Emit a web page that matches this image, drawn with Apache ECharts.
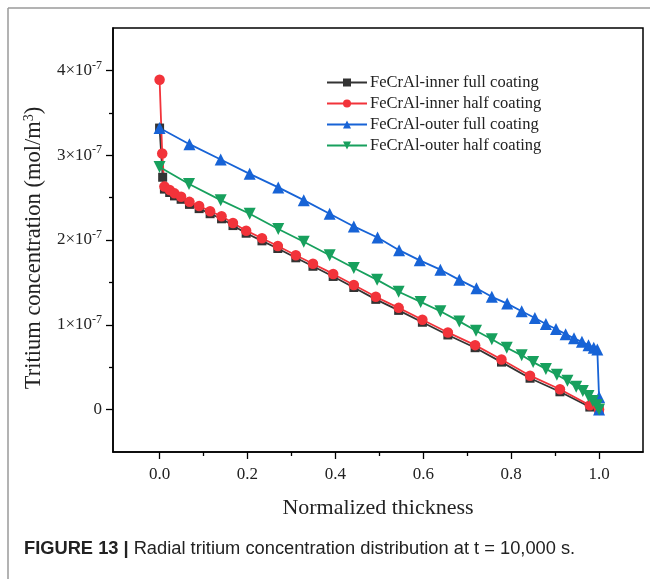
<!DOCTYPE html>
<html>
<head>
<meta charset="utf-8">
<script src="https://cdn.jsdelivr.net/npm/echarts@6/dist/echarts.min.js"></script>
<style>
  html, body { margin: 0; padding: 0; background: #fff; }
  #chart { width: 650px; height: 579px; }
</style>
</head>
<body>
<div id="chart"></div>
<script>
// series names (legend order)
const seriesNames = [
  'FeCrAl-inner full coating',
  'FeCrAl-inner half coating',
  'FeCrAl-outer full coating',
  'FeCrAl-outer half coating'
];

// normalized thickness / concentration in units of 1e-7 mol/m3
const innerFullX = [0, 0.007, 0.011, 0.023, 0.034, 0.049, 0.068, 0.090, 0.115, 0.141, 0.167, 0.197, 0.233, 0.269, 0.310, 0.349, 0.395, 0.442, 0.492, 0.544, 0.598, 0.656, 0.718, 0.778, 0.843, 0.911, 0.979, 1.0];
const innerFullY = [3.32, 2.74, 2.60, 2.56, 2.52, 2.48, 2.42, 2.37, 2.31, 2.25, 2.17, 2.08, 1.99, 1.90, 1.79, 1.69, 1.57, 1.44, 1.30, 1.17, 1.03, 0.88, 0.73, 0.56, 0.37, 0.21, 0.03, 0.00];

const innerHalfX = [0, 0.006, 0.011, 0.023, 0.034, 0.049, 0.068, 0.090, 0.115, 0.141, 0.167, 0.197, 0.233, 0.269, 0.310, 0.349, 0.395, 0.442, 0.492, 0.544, 0.598, 0.656, 0.718, 0.778, 0.843, 0.911, 0.979, 1.0];
const innerHalfY = [3.89, 3.02, 2.63, 2.59, 2.55, 2.51, 2.45, 2.40, 2.34, 2.28, 2.20, 2.11, 2.02, 1.93, 1.82, 1.72, 1.60, 1.47, 1.33, 1.20, 1.06, 0.91, 0.76, 0.59, 0.40, 0.24, 0.05, 0.00];

const outerFullX = [0, 0.068, 0.139, 0.205, 0.270, 0.328, 0.387, 0.442, 0.496, 0.545, 0.592, 0.639, 0.682, 0.721, 0.756, 0.791, 0.824, 0.854, 0.879, 0.902, 0.924, 0.943, 0.961, 0.976, 0.988, 0.996, 1.0, 1.0];
const outerFullY = [3.32, 3.13, 2.95, 2.78, 2.62, 2.47, 2.31, 2.16, 2.03, 1.88, 1.76, 1.65, 1.53, 1.43, 1.33, 1.25, 1.16, 1.08, 1.01, 0.95, 0.89, 0.84, 0.80, 0.76, 0.73, 0.71, 0.15, 0.00];

const outerHalfX = [0, 0.067, 0.139, 0.205, 0.270, 0.328, 0.387, 0.442, 0.495, 0.544, 0.594, 0.639, 0.682, 0.720, 0.756, 0.790, 0.824, 0.850, 0.879, 0.904, 0.928, 0.948, 0.963, 0.976, 0.986, 0.995, 1.0];
const outerHalfY = [2.86, 2.66, 2.47, 2.31, 2.13, 1.98, 1.82, 1.67, 1.53, 1.39, 1.27, 1.16, 1.04, 0.93, 0.83, 0.73, 0.64, 0.56, 0.48, 0.41, 0.34, 0.27, 0.22, 0.16, 0.10, 0.05, 0.00];

// ticks
const xTicks = [0, 0.2, 0.4, 0.6, 0.8, 1.0];
const xMinorTicks = [0.1, 0.3, 0.5, 0.7, 0.9];
const yTicks = [0, 1, 2, 3, 4];
const yMinorTicks = [0.5, 1.5, 2.5, 3.5];

const serif = 'Liberation Serif';
const pair = (xs, ys) => xs.map((x, i) => [x, ys[i]]);

const myChart = echarts.init(document.getElementById('chart'));

const minorAxis = (ticks) => ({
  type: 'value',
  axisLine: {show: false, onZero: false},
  axisTick: {show: true, inside: false, length: 4, customValues: ticks, lineStyle: {color: '#000', width: 1.3}},
  axisLabel: {show: false},
  splitLine: {show: false}
});

myChart.setOption({
  backgroundColor: '#fff',
  animation: false,
  title: {
    text: '{b|FIGURE 13 |} {r|Radial tritium concentration distribution at t = 10,000 s.}',
    left: 19,
    top: 535,
    textStyle: {
      fontWeight: 'normal',
      rich: {
        b: {fontFamily: 'Liberation Sans', fontWeight: 'bold', fontSize: 18.3, color: '#222'},
        r: {fontFamily: 'Liberation Sans', fontWeight: 'normal', fontSize: 18.3, color: '#222'}
      }
    }
  },
  graphic: [
    {type: 'line', shape: {x1: 8, y1: 8, x2: 650, y2: 8}, style: {stroke: '#9a9a9a', lineWidth: 1.5}},
    {type: 'line', shape: {x1: 8, y1: 8, x2: 8, y2: 579}, style: {stroke: '#9a9a9a', lineWidth: 1.5}}
  ],
  legend: {
    orient: 'vertical',
    left: 326,
    top: 74,
    padding: 0,
    itemWidth: 40,
    itemHeight: 10,
    itemGap: 4,
    textStyle: {fontFamily: serif, fontSize: 16.5, color: '#222', padding: [0, 0, 0, -2]},
    data: seriesNames
  },
  grid: {
    left: 113, top: 28, right: 7, bottom: 127,
    show: true, borderColor: '#000', borderWidth: 1.5
  },
  xAxis: [
    {
      type: 'value',
      min: -0.106,
      max: 1.1,
      name: 'Normalized thickness',
      nameLocation: 'middle',
      nameGap: 45,
      nameTextStyle: {fontFamily: serif, fontSize: 22, color: '#222'},
      axisLine: {onZero: false, lineStyle: {color: '#000', width: 1.5}},
      axisTick: {inside: false, length: 7, customValues: xTicks, lineStyle: {color: '#000', width: 1.3}},
      axisLabel: {
        customValues: xTicks, margin: 14,
        fontFamily: serif, fontSize: 17, color: '#222',
        formatter: (v) => v.toFixed(1)
      },
      splitLine: {show: false}
    },
    Object.assign(minorAxis(xMinorTicks), {min: -0.106, max: 1.1, position: 'bottom'})
  ],
  yAxis: [
    {
      type: 'value',
      min: -0.5,
      max: 4.5,
      name: '{a|Tritium concentration (mol/m}{s|3}{a|)}',
      nameLocation: 'middle',
      nameGap: 59,
      nameTextStyle: {
        padding: [0, 16, 0, 0],
        rich: {
          a: {fontFamily: serif, fontSize: 22.5, color: '#222'},
          s: {fontFamily: serif, fontSize: 14, color: '#222', padding: [0, 0, 11, 0]}
        }
      },
      axisLine: {onZero: false, lineStyle: {color: '#000', width: 1.5}},
      axisTick: {inside: false, length: 7, customValues: yTicks, lineStyle: {color: '#000', width: 1.3}},
      axisLabel: {
        customValues: yTicks, margin: 11,
        formatter: (v) => v === 0 ? '{a|0}' : '{a|' + v + '×10}{s|-7}',
        rich: {
          a: {fontFamily: serif, fontSize: 17, color: '#222'},
          s: {fontFamily: serif, fontSize: 12, color: '#222', padding: [0, 0, 10, 0]}
        }
      },
      splitLine: {show: false}
    },
    Object.assign(minorAxis(yMinorTicks), {min: -0.5, max: 4.5, position: 'left'})
  ],
  series: [
    {
      name: seriesNames[0], type: 'line', data: pair(innerFullX, innerFullY),
      symbol: 'rect', symbolSize: 9,
      lineStyle: {color: '#333', width: 1.8},
      itemStyle: {color: '#333'}
    },
    {
      name: seriesNames[1], type: 'line', data: pair(innerHalfX, innerHalfY),
      symbol: 'circle', symbolSize: 10.5,
      lineStyle: {color: '#f2333a', width: 1.8},
      itemStyle: {color: '#f2333a'}
    },
    {
      name: seriesNames[2], type: 'line', data: pair(outerFullX, outerFullY),
      symbol: 'triangle', symbolSize: 12,
      lineStyle: {color: '#1763d6', width: 1.8},
      itemStyle: {color: '#1763d6'}
    },
    {
      name: seriesNames[3], type: 'line', data: pair(outerHalfX, outerHalfY),
      symbol: 'triangle', symbolRotate: 180, symbolSize: 12,
      lineStyle: {color: '#17a05d', width: 1.8},
      itemStyle: {color: '#17a05d'}
    }
  ]
});
</script>
</body>
</html>
